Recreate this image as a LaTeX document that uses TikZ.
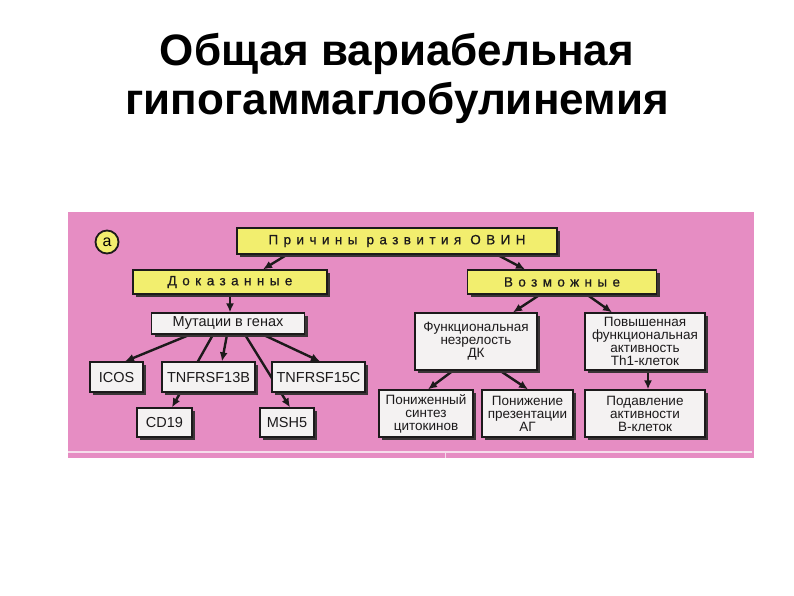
\documentclass[tikz,border=0pt]{standalone}
\usepackage{fontspec}
\setmainfont{Liberation Sans}
\newfontfamily\spacedfont[LetterSpace=40,FakeBold=0.6]{Liberation Sans}
\usepackage{xcolor}
\definecolor{ovin-pink}{HTML}{E68DC3}
\definecolor{ovin-yellow}{HTML}{F2EE6E}
\definecolor{ovin-white}{HTML}{F4F2F2}
\definecolor{ovin-black}{HTML}{1C1A1B}
\definecolor{ovin-shadow}{HTML}{3A3436}
\definecolor{ovin-line}{HTML}{F6DDEB}
\usepackage{tikz}
\usetikzlibrary{shadows,arrows.meta}

\pgfdeclarelayer{panel}
\pgfdeclarelayer{links}
\pgfsetlayers{panel,links,main}

\tikzset{
  boxshadow/.style={drop shadow={shadow xshift=3pt, shadow yshift=-3pt, fill=ovin-shadow, opacity=1}},
  headbox/.style={draw=ovin-black, line width=1.3pt, fill=ovin-yellow, inner sep=0pt,
    text=ovin-black, font=\spacedfont\fontsize{13.5}{15}\selectfont, boxshadow},
  genebox/.style={draw=ovin-black, line width=1.3pt, fill=ovin-white, inner sep=0pt,
    text=ovin-black, font=\fontsize{14.5}{17}\selectfont, boxshadow},
  notebox/.style={draw=ovin-black, line width=1.3pt, fill=ovin-white, inner sep=0pt,
    align=center, text=ovin-black, font=\fontsize{13.5}{13}\selectfont, boxshadow},
  link/.style={-{Latex[length=9pt,width=8pt]}, line width=2.4pt, draw=ovin-black},
}

\begin{document}
\begin{tikzpicture}[x=1pt, y=-1pt]

    \useasboundingbox (0, 0) rectangle (794, 595);

    % Title
    \node[anchor=base, font=\bfseries\fontsize{44}{49}\selectfont] (title1) at (397, 65) {Общая вариабельная};
    \node[anchor=base, font=\bfseries\fontsize{44}{49}\selectfont] (title2) at (397, 114) {гипогаммаглобулинемия};

    % Panel
    \begin{pgfonlayer}{panel}
        \fill[ovin-pink] (68, 212) rectangle (754, 458);
        \draw[ovin-line, line width=1.2pt] (68, 452) -- (752, 452);
        \draw[ovin-line, line width=1pt] (445, 452) -- (445, 458);
    \end{pgfonlayer}

    % Marker
    \node[circle, minimum size=23pt, inner sep=0pt, fill=ovin-yellow, draw=ovin-black, line width=1.8pt,
          font=\fontsize{16}{16}\selectfont] (mark) at (107, 242) {а};

    % Top level
    \node[headbox, minimum width=320pt, minimum height=26pt] (cause) at (397, 241) {Причины развития ОВИН};
    \node[headbox, minimum width=194pt, minimum height=24pt] (proven) at (230, 282) {Доказанные};
    \node[headbox, minimum width=189pt, minimum height=24pt] (possible) at (562, 282) {Возможные};

    % Proven causes
    \node[genebox, minimum width=153pt, minimum height=21pt] (mutations) at (228, 323.5) {Мутации в генах};
    \node[genebox, minimum width=53pt, minimum height=30pt] (icos) at (116.5, 377) {ICOS};
    \node[genebox, minimum width=93pt, minimum height=30pt] (tnf13b) at (208.5, 377) {TNFRSF13B};
    \node[genebox, minimum width=93pt, minimum height=30pt] (tnf15c) at (318.5, 377) {TNFRSF15C};
    \node[genebox, minimum width=55pt, minimum height=29pt] (cd19) at (164.5, 422.5) {CD19};
    \node[genebox, minimum width=54pt, minimum height=29pt] (msh5) at (287, 422.5) {MSH5};

    % Possible causes
    \node[notebox, minimum width=122pt, minimum height=57pt] (dcimm) at (476, 341.5) {Функциональная\\незрелость\\ДК};
    \node[notebox, minimum width=120pt, minimum height=57pt] (thone) at (645, 341.5) {Повышенная\\функциональная\\активность\\Th1-клеток};
    \node[notebox, minimum width=94pt, minimum height=47pt] (cytok) at (426, 413.5) {Пониженный\\синтез\\цитокинов};
    \node[notebox, minimum width=91pt, minimum height=47pt] (present) at (527.5, 413.5) {Понижение\\презентации\\АГ};
    \node[notebox, minimum width=120pt, minimum height=47pt] (bsupp) at (645, 413.5) {Подавление\\активности\\В-клеток};

    % Links
    \begin{pgfonlayer}{links}
        \draw[link] ([xshift=-110pt]cause.south) -- ([xshift=33pt]proven.north);
        \draw[link] ([xshift=100pt]cause.south) -- ([xshift=-37pt]possible.north);
        \draw[link] (proven.south) -- ([xshift=2pt]mutations.north);
        \draw[link] ([xshift=-38pt]mutations.south) -- ([xshift=8.5pt]icos.north);
        \draw[link] ([xshift=-15pt]mutations.south) -- ([xshift=7.5pt]cd19.north);
        \draw[link] ([xshift=-1pt]mutations.south) -- ([xshift=13.5pt]tnf13b.north);
        \draw[link] ([xshift=17pt]mutations.south) -- ([xshift=3pt]msh5.north);
        \draw[link] ([xshift=35pt]mutations.south) -- ([xshift=1.5pt]tnf15c.north);
        \draw[link] ([xshift=-22pt]possible.south) -- ([xshift=37pt]dcimm.north);
        \draw[link] ([xshift=25pt]possible.south) -- ([xshift=-33pt]thone.north);
        \draw[link] ([xshift=-23pt]dcimm.south) -- ([xshift=2pt]cytok.north);
        \draw[link] ([xshift=24pt]dcimm.south) -- ([xshift=0.5pt]present.north);
        \draw[link] ([xshift=3pt]thone.south) -- ([xshift=3pt]bsupp.north);
    \end{pgfonlayer}

\end{tikzpicture}
\end{document}
